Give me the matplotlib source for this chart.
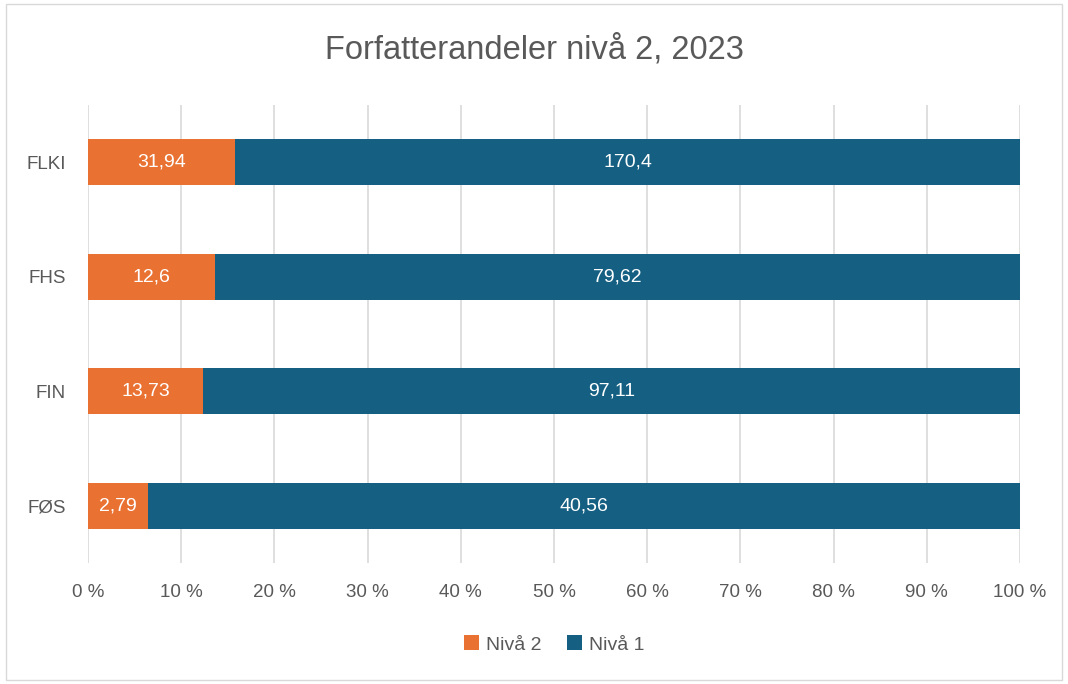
import matplotlib.pyplot as plt
from matplotlib.patches import Rectangle
from matplotlib.ticker import FuncFormatter

plt.rcParams.update(
    {
        "font.family": ["Liberation Sans", "DejaVu Sans"],
        "text.color": "#595959",
        "axes.labelcolor": "#595959",
        "xtick.color": "#595959",
        "ytick.color": "#595959",
    }
)

# data
units = ["FLKI", "FHS", "FIN", "FØS"]
niva2 = [31.94, 12.6, 13.73, 2.79]
niva1 = [170.4, 79.62, 97.11, 40.56]
niva2_labels = ["31,94", "12,6", "13,73", "2,79"]
niva1_labels = ["170,4", "79,62", "97,11", "40,56"]

orange = "#E97132"
blue = "#156082"

totals = [a + b for a, b in zip(niva2, niva1)]
p2 = [100 * a / t for a, t in zip(niva2, totals)]
p1 = [100 * b / t for b, t in zip(niva1, totals)]

fig = plt.figure(figsize=(10.68, 6.84), dpi=100)
ax = fig.add_axes([0.0824, 0.177, 0.8727, 0.6695])

ypos = list(range(len(units)))
h = 0.4
bars2 = ax.barh(ypos, p2, height=h, color=orange, label="Nivå 2", zorder=3)
bars1 = ax.barh(ypos, p1, left=p2, height=h, color=blue, label="Nivå 1", zorder=3)

for bar, txt in zip(bars2, niva2_labels):
    ax.text(bar.get_x() + bar.get_width() / 2, bar.get_y() + bar.get_height() / 2, txt,
            ha="center", va="center", color="white", fontsize=14, zorder=4)
for bar, txt in zip(bars1, niva1_labels):
    ax.text(bar.get_x() + bar.get_width() / 2, bar.get_y() + bar.get_height() / 2, txt,
            ha="center", va="center", color="white", fontsize=14, zorder=4)

ax.set_xlim(0, 100)
ax.set_ylim(len(units) - 0.5, -0.5)
ax.set_yticks(ypos)
ax.set_yticklabels(units)
ax.set_xticks(range(0, 101, 10))
ax.xaxis.set_major_formatter(FuncFormatter(lambda v, _: f"{int(v)} %"))
ax.tick_params(axis="both", length=0, labelsize=13.5)
ax.tick_params(axis="x", pad=15)
ax.tick_params(axis="y", pad=16)
ax.grid(axis="x", color="#d9d9d9", lw=1.2, zorder=0)
for s in ax.spines.values():
    s.set_visible(False)

fig.suptitle("Forfatterandeler nivå 2, 2023", y=0.95, fontsize=23.5, color="#595959")

ax.legend(loc="upper center", bbox_to_anchor=(0.5, -0.12), ncol=2, frameon=False,
          fontsize=14, handlelength=0.8, handleheight=0.8, handletextpad=0.35,
          columnspacing=1.3)

fig.patches.append(Rectangle((0.006, 0.006), 0.988, 0.988, transform=fig.transFigure,
                             fill=False, edgecolor="#d9d9d9", lw=1))

fig.savefig("out.png", dpi=100)
